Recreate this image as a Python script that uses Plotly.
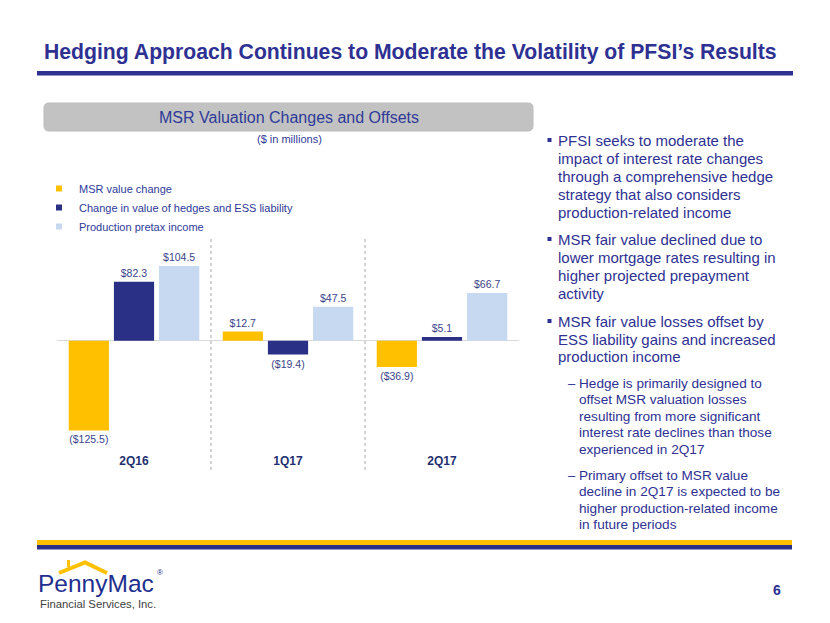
import plotly.graph_objects as go

W, H = 830, 623
OX, OY = 8, 8  # page body margin offset

categories = ["2Q16", "1Q17", "2Q17"]
msr_value_change = [-125.5, 12.7, -36.9]
hedges_ess_change = [82.3, -19.4, 5.1]
production_income = [104.5, 47.5, 66.7]

series_names = ["MSR value change",
                "Change in value of hedges and ESS liability",
                "Production pretax income"]
series_colors = ["#FFC000", "#2B3087", "#C6D9F1"]

bullet_1 = ["PFSI seeks to moderate the", "impact of interest rate changes",
            "through a comprehensive hedge", "strategy that also considers",
            "production-related income"]
bullet_2 = ["MSR fair value declined due to", "lower mortgage rates resulting in",
            "higher projected prepayment", "activity"]
bullet_3 = ["MSR fair value losses offset by", "ESS liability gains and increased",
            "production income"]
sub_1 = ["Hedge is primarily designed to", "offset MSR valuation losses",
         "resulting from more significant", "interest rate declines than those",
         "experienced in 2Q17"]
sub_2 = ["Primary offset to MSR value", "decline in 2Q17 is expected to be",
         "higher production-related income", "in future periods"]

NAVY = "#2E3192"
TEXT_BLUE = "#2E3A99"
LABEL_COLOR = "#3A4489"
FONT = "Liberation Sans, Arial, sans-serif"


def fmt(v):
    return f"${v:.1f}" if v >= 0 else f"(${abs(v):.1f})"


def px(x):
    return (x - OX) / W


def py(y):
    return 1 - (y - OY) / H


fig = go.Figure()
for name, vals, col in zip(series_names,
                           [msr_value_change, hedges_ess_change, production_income],
                           series_colors):
    fig.add_trace(go.Bar(
        x=categories, y=vals, name=name, showlegend=False,
        marker=dict(color=col, line=dict(width=0)),
        text=[fmt(v) for v in vals], textposition="outside",
        textfont=dict(family=FONT, size=10.5, color=LABEL_COLOR),
        cliponaxis=False,
    ))
# legend entries with small square swatches
for name, col in zip(series_names, series_colors):
    fig.add_trace(go.Scatter(
        x=[None], y=[None], name=name, mode="markers",
        marker=dict(symbol="square", size=6, color=col),
        showlegend=True,
    ))

shapes = []
# title rule
shapes.append(dict(type="rect", xref="paper", yref="paper",
                   x0=px(37), x1=px(793), y0=py(75.5), y1=py(71),
                   fillcolor=NAVY, line=dict(width=0)))
# footer bars
shapes.append(dict(type="rect", xref="paper", yref="paper",
                   x0=px(37), x1=px(792), y0=py(545), y1=py(540),
                   fillcolor="#FFC000", line=dict(width=0)))
shapes.append(dict(type="rect", xref="paper", yref="paper",
                   x0=px(37), x1=px(792), y0=py(549.5), y1=py(545),
                   fillcolor="#2B3087", line=dict(width=0)))

# rounded gray header box
x0, x1, y0, y1, r = 44, 533, 103, 131, 5
path = (f"M {px(x0+r)} {py(y0)} L {px(x1-r)} {py(y0)} Q {px(x1)} {py(y0)} {px(x1)} {py(y0+r)} "
        f"L {px(x1)} {py(y1-r)} Q {px(x1)} {py(y1)} {px(x1-r)} {py(y1)} "
        f"L {px(x0+r)} {py(y1)} Q {px(x0)} {py(y1)} {px(x0)} {py(y1-r)} "
        f"L {px(x0)} {py(y0+r)} Q {px(x0)} {py(y0)} {px(x0+r)} {py(y0)} Z")
shapes.append(dict(type="path", xref="paper", yref="paper", path=path,
                   fillcolor="#C2C2C2", line=dict(color="#BBBBBB", width=1)))

# dotted separators between categories
for xs in [0.5, 1.5]:
    shapes.append(dict(type="line", xref="x", yref="paper", x0=xs, x1=xs,
                       y0=py(470), y1=py(237),
                       line=dict(color="#A6A6A6", width=1, dash="dot")))

# bullet squares
for yy in [140, 239, 321]:
    shapes.append(dict(type="rect", xref="paper", yref="paper",
                       x0=px(547.5), x1=px(551.5), y0=py(yy + 2), y1=py(yy - 2),
                       fillcolor=NAVY, line=dict(width=0)))

# logo roof
shapes.append(dict(type="path", xref="paper", yref="paper",
                   path=f"M {px(59)} {py(573)} L {px(85)} {py(562.5)} L {px(107)} {py(573)}",
                   line=dict(color="#FFC000", width=4)))
shapes.append(dict(type="line", xref="paper", yref="paper",
                   x0=px(68.5), x1=px(68.5), y0=py(567), y1=py(560),
                   line=dict(color="#FFC000", width=3)))

annotations = []
annotations.append(dict(text="<b>Hedging Approach Continues to Moderate the Volatility of PFSI’s Results</b>",
                        x=px(42), y=py(52.5), xref="paper", yref="paper",
                        xanchor="left", yanchor="middle", showarrow=False,
                        font=dict(family=FONT, size=21.2, color=NAVY)))
annotations.append(dict(text="MSR Valuation Changes and Offsets",
                        x=px(289), y=py(117.5), xref="paper", yref="paper",
                        xanchor="center", yanchor="middle", showarrow=False,
                        font=dict(family=FONT, size=16, color=TEXT_BLUE)))
annotations.append(dict(text="($ in millions)",
                        x=px(289), y=py(139), xref="paper", yref="paper",
                        xanchor="center", yanchor="middle", showarrow=False,
                        font=dict(family=FONT, size=11, color=TEXT_BLUE)))


def add_lines(lines, x, y_first, step, size):
    for i, line in enumerate(lines):
        annotations.append(dict(text=line, x=px(x), y=py(y_first + i * step),
                                xref="paper", yref="paper",
                                xanchor="left", yanchor="middle", showarrow=False,
                                font=dict(family=FONT, size=size, color=NAVY)))


add_lines(bullet_1, 556, 140.5, 18.0, 15)
add_lines(bullet_2, 556, 239.5, 18.0, 15)
add_lines(bullet_3, 556, 321.5, 17.7, 15)
for yy in [383, 475]:
    annotations.append(dict(text="–", x=px(566), y=py(yy), xref="paper", yref="paper",
                            xanchor="left", yanchor="middle", showarrow=False,
                            font=dict(family=FONT, size=13, color=NAVY)))
add_lines(sub_1, 577, 383, 16.6, 13.6)
add_lines(sub_2, 577, 475, 16.6, 13.6)

# logo text
annotations.append(dict(text="PennyMac", x=px(36), y=py(583), xref="paper", yref="paper",
                        xanchor="left", yanchor="middle", showarrow=False,
                        font=dict(family=FONT, size=24.5, color="#1F2F8F")))
annotations.append(dict(text="®", x=px(155), y=py(572), xref="paper", yref="paper",
                        xanchor="left", yanchor="middle", showarrow=False,
                        font=dict(family=FONT, size=8, color="#1F2F8F")))
annotations.append(dict(text="Financial Services, Inc.", x=px(38), y=py(604), xref="paper", yref="paper",
                        xanchor="left", yanchor="middle", showarrow=False,
                        font=dict(family=FONT, size=11.3, color="#404040")))
annotations.append(dict(text="<b>6</b>", x=px(777), y=py(590), xref="paper", yref="paper",
                        xanchor="center", yanchor="middle", showarrow=False,
                        font=dict(family=FONT, size=14, color=NAVY)))

fig.update_layout(
    width=W, height=H,
    margin=dict(l=0, r=0, t=0, b=0),
    paper_bgcolor="white", plot_bgcolor="white",
    barmode="group", bargap=0.12, bargroupgap=0.11,
    showlegend=True,
    legend=dict(x=px(39), y=py(174), xanchor="left", yanchor="top",
                bgcolor="rgba(0,0,0,0)",
                font=dict(family=FONT, size=11, color=TEXT_BLUE),
                itemclick=False, tracegroupgap=0),
    xaxis=dict(domain=[px(57), px(519)], showgrid=False, showline=False,
               zeroline=False, ticks="",
               tickfont=dict(family=FONT, size=12, color="#1F2F6F", weight="bold")),
    yaxis=dict(domain=[py(452), py(237)], range=[-155.7, 145.0],
               showgrid=False, showline=False, showticklabels=False,
               zeroline=True, zerolinecolor="#D9D9D9", zerolinewidth=1),
    shapes=shapes,
    annotations=annotations,
    font=dict(family=FONT),
)

fig.write_html("out.html")
